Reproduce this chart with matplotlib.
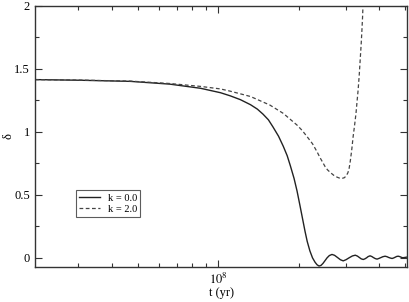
import matplotlib
matplotlib.use("Agg")
import matplotlib.pyplot as plt
from matplotlib.ticker import LogLocator, NullFormatter, MultipleLocator, FixedLocator

plt.rcParams['font.family'] = ['Liberation Serif', 'DejaVu Serif']
plt.rcParams['mathtext.fontset'] = 'stix'

# k = 0.0 (solid)
t_k0 = [2.07e7, 3.05e7, 4.7e7, 6.6e7, 8.6e7, 1.02e8, 1.11e8, 1.21e8, 1.32e8,
        1.40e8, 1.47e8, 1.54e8, 1.60e8, 1.68e8, 1.75e8, 1.81e8, 1.86e8, 1.92e8,
        1.97e8, 2.02e8, 2.07e8, 2.11e8, 2.15e8, 2.20e8, 2.25e8, 2.30e8, 2.34e8,
        2.38e8, 2.42e8, 2.46e8, 2.50e8, 2.55e8, 2.60e8, 2.66e8, 2.72e8, 2.78e8,
        2.86e8, 2.93e8, 3.00e8, 3.08e8, 3.17e8, 3.25e8, 3.31e8, 3.36e8, 3.42e8,
        3.48e8, 3.53e8, 3.58e8, 3.63e8, 3.69e8, 3.75e8, 3.80e8, 3.86e8, 3.92e8,
        3.98e8, 4.05e8, 4.12e8, 4.20e8, 4.27e8, 4.33e8, 4.40e8, 4.46e8, 4.52e8,
        4.58e8, 4.64e8, 4.70e8, 4.76e8, 4.82e8, 4.88e8, 4.94e8, 5.07e8]
d_k0 = [1.414, 1.409, 1.400, 1.378, 1.345, 1.310, 1.285, 1.255, 1.215,
        1.180, 1.140, 1.095, 1.040, 0.965, 0.885, 0.810, 0.730, 0.630,
        0.530, 0.415, 0.300, 0.210, 0.130, 0.055, 0.000, -0.035, -0.055,
        -0.065, -0.060, -0.045, -0.025, 0.000, 0.018, 0.027, 0.020, 0.005,
        -0.015, -0.024, -0.015, 0.000, 0.015, 0.021, 0.014, 0.004, -0.008,
        -0.013, -0.008, 0.000, 0.010, 0.016, 0.010, 0.002, -0.006, -0.010,
        -0.005, 0.002, 0.009, 0.013, 0.009, 0.003, -0.002, -0.005, -0.001,
        0.005, 0.011, 0.013, 0.010, 0.005, 0.001, 0.002, 0.006]

# k = 2.0 (dashed)
t_k2 = [2.07e7, 3.05e7, 4.7e7, 6.6e7, 8.6e7, 1.02e8, 1.11e8, 1.32e8, 1.56e8,
        1.75e8, 1.97e8, 2.06e8, 2.15e8, 2.25e8, 2.34e8, 2.40e8, 2.46e8, 2.51e8,
        2.56e8, 2.62e8, 2.70e8, 2.78e8, 2.85e8, 2.90e8, 2.96e8, 3.01e8, 3.05e8,
        3.08e8, 3.11e8, 3.15e8, 3.19e8, 3.23e8, 3.27e8, 3.30e8, 3.33e8, 3.36e8,
        3.39e8, 3.42e8, 3.44e8, 3.46e8, 3.48e8]
d_k2 = [1.414, 1.410, 1.402, 1.383, 1.360, 1.340, 1.322, 1.280, 1.212,
        1.146, 1.053, 1.010, 0.960, 0.905, 0.841, 0.795, 0.755, 0.722,
        0.698, 0.678, 0.655, 0.640, 0.631, 0.630, 0.636, 0.652, 0.675,
        0.705, 0.760, 0.850, 0.960, 1.050, 1.146, 1.240, 1.330, 1.440,
        1.570, 1.700, 1.800, 1.910, 2.050]

fig = plt.figure(figsize=(4.09, 3.02), dpi=100)
ax = fig.add_axes([0.0856, 0.117, 0.9095, 0.864])

ax.plot(t_k0, d_k0, color='#222222', lw=1.0, label='k = 0.0')
ax.plot(t_k2, d_k2, color='#444444', lw=0.9, ls=(0, (3, 2)), label='k = 2.0')

ax.set_xscale('log')
ax.set_xlim(2.07e7, 5.07e8)
ax.set_ylim(-0.07, 2.0)

ax.xaxis.set_major_locator(FixedLocator([1e8]))
ax.xaxis.set_minor_locator(LogLocator(base=10, subs=range(2, 10), numticks=20))
ax.xaxis.set_minor_formatter(NullFormatter())
ax.set_xticklabels([r'$10^{8}$'])
ax.yaxis.set_major_locator(MultipleLocator(0.5))
ax.yaxis.set_minor_locator(MultipleLocator(0.25))
ax.set_yticks([0, 0.5, 1, 1.5, 2])
ax.set_yticklabels(['0', '0.5', '1', '1.5', '2'])

ax.tick_params(which='both', direction='in', top=True, right=True, labelsize=9, color='#333333')
ax.tick_params(which='major', length=5, width=0.8)
ax.tick_params(which='minor', length=3, width=0.8)
for s in ax.spines.values():
    s.set_linewidth(1.0)
    s.set_color('#333333')

ax.set_xlabel('t (yr)', fontsize=9, labelpad=0)
ax.set_ylabel('δ', fontsize=9)
ax.yaxis.set_label_coords(-0.056, 0.5)

leg = ax.legend(loc='lower left', bbox_to_anchor=(0.095, 0.17), fontsize=7.5,
                frameon=True, fancybox=False, edgecolor='#333333',
                handlelength=2.0, borderpad=0.3, labelspacing=0.2, handletextpad=0.8)
leg.get_frame().set_linewidth(0.8)

fig.savefig('out.png', dpi=100)
